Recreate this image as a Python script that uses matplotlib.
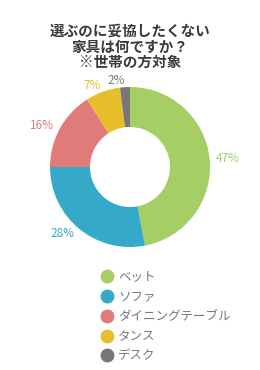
import matplotlib
matplotlib.use('Agg')
import matplotlib.pyplot as plt
from matplotlib.lines import Line2D

plt.rcParams['font.family'] = ['Noto Sans CJK JP', 'DejaVu Sans']

title = '選ぶのに妥協したくない\n家具は何ですか？\n※世帯の方対象'
categories = ['ベット', 'ソファ', 'ダイニングテーブル', 'タンス', 'デスク']
values = [47, 28, 16, 7, 2]
colors = ['#a5cf64', '#35a9c9', '#e07b7a', '#e6bf2a', '#7a7676']

W, H = 260, 370
fig = plt.figure(figsize=(W / 100, H / 100), dpi=100)

# pie centre (130, 167) px, radius 80 px
cx, cy, r = 130, 167, 80
ax = fig.add_axes([(cx - r) / W, 1 - (cy + r) / H, 2 * r / W, 2 * r / H])
wedges, texts = ax.pie(values, colors=colors, startangle=90, counterclock=False,
                       labels=['{}%'.format(v) for v in values], labeldistance=1.08,
                       wedgeprops=dict(width=0.5, linewidth=0),
                       textprops=dict(fontsize=8.5))
for t, c in zip(texts, colors):
    t.set_color(c)
ax.set_xlim(-1, 1)
ax.set_ylim(-1, 1)
ax.set_aspect('equal')

fig.text(0.5, 1 - 23 / H, title, ha='center', va='top', fontsize=10.5,
         fontweight='bold', color='#3a3a3a', linespacing=0.95)

handles = [Line2D([], [], marker='o', linestyle='none', markersize=9,
                  markerfacecolor=c, markeredgecolor=c) for c in colors]
leg = fig.legend(handles, categories, loc='upper left',
                 bbox_to_anchor=(93 / W, 1 - 264 / H), frameon=False,
                 fontsize=9, labelspacing=0.55, handletextpad=0.3,
                 borderpad=0, handlelength=1.2)
for t in leg.get_texts():
    t.set_color('#777777')

fig.savefig('out.png', dpi=100)
